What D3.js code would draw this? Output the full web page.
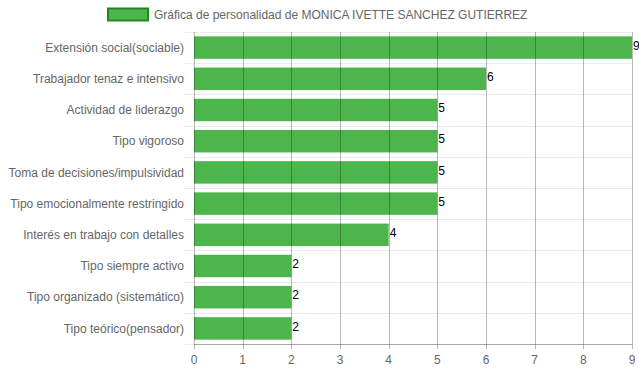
<!DOCTYPE html>
<html>
<head>
<meta charset="utf-8">
<script src="https://cdn.jsdelivr.net/npm/d3@7"></script>
<style>
  body { margin: 0; background: #fff; }
  text { font-family: "Liberation Sans", Arial, Helvetica, sans-serif; }
</style>
</head>
<body>
<svg id="chart" width="639" height="372"></svg>
<script>
const categories = [
  "Extensión social(sociable)",
  "Trabajador tenaz e intensivo",
  "Actividad de liderazgo",
  "Tipo vigoroso",
  "Toma de decisiones/impulsividad",
  "Tipo emocionalmente restringido",
  "Interés en trabajo con detalles",
  "Tipo siempre activo",
  "Tipo organizado (sistemático)",
  "Tipo teórico(pensador)"
];
const values = [9, 6, 5, 5, 5, 5, 4, 2, 2, 2];
const xTicks = [0, 1, 2, 3, 4, 5, 6, 7, 8, 9];
const legendLabel = "Gráfica de personalidad de MONICA IVETTE SANCHEZ GUTIERREZ";

const colors = {
  bar: "#4cb54c",
  barBorder: "#1e8a1e",
  label: "#666",
  gridV: "rgba(0,0,0,0.28)",
  gridH: "rgba(0,0,0,0.08)"
};

const plot = { left: 194, right: 632, top: 32, bottom: 344 };
const svg = d3.select("#chart");

const x = d3.scaleLinear().domain([0, 9]).range([plot.left, plot.right]);
const y = d3.scaleBand().domain(categories).range([plot.top, plot.bottom]);
const barH = y.bandwidth() * 0.72;

// horizontal (category) grid lines, offset between bars
const hLines = d3.range(categories.length + 1).map((i) => plot.top + i * y.step());
svg.append("g")
  .selectAll("line")
  .data(hLines)
  .join("line")
  .attr("x1", plot.left - 10)
  .attr("x2", plot.right)
  .attr("y1", (d) => Math.round(d) + 0.5)
  .attr("y2", (d) => Math.round(d) + 0.5)
  .attr("stroke", colors.gridH);

// bars
svg.append("g")
  .selectAll("rect")
  .data(values)
  .join("rect")
  .attr("x", x(0))
  .attr("y", (d, i) => y(categories[i]) + (y.bandwidth() - barH) / 2)
  .attr("width", (d) => x(d) - x(0))
  .attr("height", barH)
  .attr("fill", colors.bar);

// vertical grid lines (drawn over bars, like the reference)
svg.append("g")
  .selectAll("line")
  .data(xTicks)
  .join("line")
  .attr("x1", (d) => Math.round(x(d)) + 0.5)
  .attr("x2", (d) => Math.round(x(d)) + 0.5)
  .attr("y1", plot.top)
  .attr("y2", plot.bottom + 5)
  .attr("stroke", colors.gridV);

// x axis line
svg.append("line")
  .attr("x1", plot.left)
  .attr("x2", plot.right)
  .attr("y1", plot.bottom + 0.5)
  .attr("y2", plot.bottom + 0.5)
  .attr("stroke", colors.gridV);

// x tick labels
svg.append("g")
  .selectAll("text")
  .data(xTicks)
  .join("text")
  .attr("x", (d) => x(d))
  .attr("y", 364)
  .attr("text-anchor", "middle")
  .attr("font-size", 12)
  .attr("fill", colors.label)
  .text((d) => d);

// category labels
svg.append("g")
  .selectAll("text")
  .data(categories)
  .join("text")
  .attr("x", plot.left - 10)
  .attr("y", (d) => y(d) + y.bandwidth() / 2)
  .attr("dy", "0.35em")
  .attr("text-anchor", "end")
  .attr("font-size", 12)
  .attr("fill", colors.label)
  .text((d) => d);

// value labels
svg.append("g")
  .selectAll("text")
  .data(values)
  .join("text")
  .attr("x", (d) => x(d) + 1)
  .attr("y", (d, i) => y(categories[i]) + y.bandwidth() / 2 - 2)
  .attr("dy", "0.35em")
  .attr("font-size", 12)
  .attr("fill", "#000")
  .text((d) => d);

// legend
const legend = svg.append("g");
legend.append("rect")
  .attr("x", 108)
  .attr("y", 8.5)
  .attr("width", 40)
  .attr("height", 12)
  .attr("fill", colors.bar)
  .attr("stroke", colors.barBorder)
  .attr("stroke-width", 2);
legend.append("text")
  .attr("x", 154)
  .attr("y", 15)
  .attr("dy", "0.35em")
  .attr("font-size", 12)
  .attr("fill", colors.label)
  .text(legendLabel);
</script>
</body>
</html>
